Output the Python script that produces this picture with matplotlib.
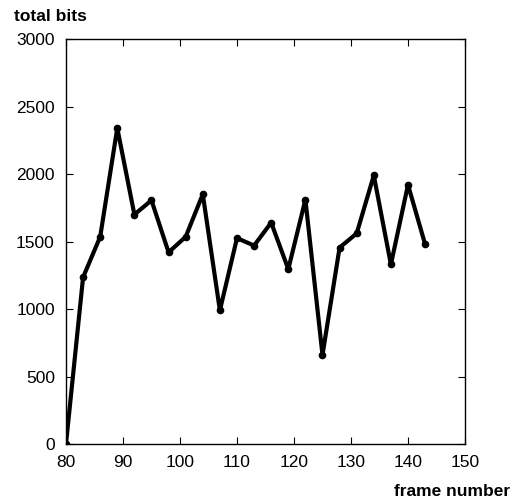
import matplotlib
matplotlib.use("Agg")
import matplotlib.pyplot as plt

# frame numbers and bit counts
frames = [80, 83, 86, 89, 92, 95, 98, 101, 104, 107, 110,
          113, 116, 119, 122, 125, 128, 131, 134, 137, 140, 143]
bits = [0, 1235, 1535, 2340, 1700, 1805, 1420, 1535, 1850, 990, 1525,
        1470, 1640, 1295, 1810, 660, 1455, 1560, 1990, 1330, 1920, 1480]

x_ticks = [80, 90, 100, 110, 120, 130, 140, 150]
y_ticks = [0, 500, 1000, 1500, 2000, 2500, 3000]

plt.rcParams['font.family'] = ['Liberation Sans', 'DejaVu Sans']

fig = plt.figure(figsize=(5.22, 5.04), dpi=100)
ax = fig.add_axes([0.1264, 0.119, 0.7644, 0.8036])

ax.plot(frames, bits, color='black', linewidth=3.0, marker='o', markersize=4.5)

ax.set_xlim(80, 150)
ax.set_ylim(0, 3000)
ax.set_xticks(x_ticks)
ax.set_yticks(y_ticks)
ax.tick_params(direction='in', top=True, right=True, length=5, width=0.8,
               labelsize=12.5)
ax.tick_params(axis='y', pad=8)
ax.tick_params(axis='x', pad=8)
for s in ax.spines.values():
    s.set_linewidth(1.0)

fig.text(0.027, 0.968, 'total bits', fontsize=12.5, fontweight='bold', ha='left', va='center')
fig.text(0.978, 0.024, 'frame number', fontsize=12.5, fontweight='bold', ha='right', va='center')

fig.savefig('out.png', dpi=100)
